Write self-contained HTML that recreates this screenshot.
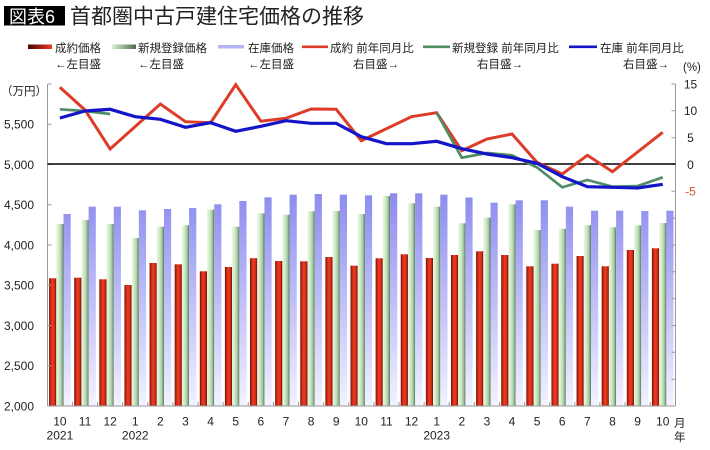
<!DOCTYPE html>
<html>
<head>
<meta charset="utf-8">
<style>
html,body{margin:0;padding:0;background:#fff;}
svg{display:block;}
text{font-family:"Liberation Sans","Noto Sans CJK JP",sans-serif;fill:#222;}
</style>
</head>
<body>
<svg width="710" height="450" viewBox="0 0 710 450" xmlns="http://www.w3.org/2000/svg">
<defs>
<linearGradient id="gR" x1="0" y1="0" x2="1" y2="0">
<stop offset="0" stop-color="#5c0a04"/>
<stop offset="0.15" stop-color="#b51f0e"/>
<stop offset="0.45" stop-color="#ec3d22"/>
<stop offset="0.75" stop-color="#d52d16"/>
<stop offset="1" stop-color="#6a0c05"/>
</linearGradient>
<linearGradient id="gG" x1="0" y1="0" x2="1" y2="0">
<stop offset="0" stop-color="#eaf7e4"/>
<stop offset="0.35" stop-color="#d0ecc8"/>
<stop offset="0.7" stop-color="#a8cca4"/>
<stop offset="0.88" stop-color="#7d9c80"/>
<stop offset="1" stop-color="#4e6650"/>
</linearGradient>
<linearGradient id="gB" gradientUnits="userSpaceOnUse" x1="0" y1="192" x2="0" y2="406">
<stop offset="0" stop-color="#8b8bef"/>
<stop offset="1" stop-color="#f2f2ff"/>
</linearGradient>
<linearGradient id="lR" x1="0" y1="0" x2="1" y2="0">
<stop offset="0" stop-color="#4a0502"/>
<stop offset="1" stop-color="#ee3a22"/>
</linearGradient>
<linearGradient id="lG" x1="0" y1="0" x2="1" y2="0">
<stop offset="0" stop-color="#d8f0d0"/>
<stop offset="1" stop-color="#4e6a50"/>
</linearGradient>
</defs>

<!-- Title -->
<rect x="4" y="6" width="61" height="19.5" fill="#000"/>
<text x="9" y="23" font-size="18" style="fill:#fff">図表6</text>
<text x="70" y="23.5" font-size="21">首都圏中古戸建住宅価格の推移</text>

<!-- Legend -->
<rect x="28" y="44.5" width="24" height="4.5" fill="url(#lR)"/>
<text x="55" y="52" font-size="11.5">成約価格</text>
<text x="55" y="68" font-size="11.5">←左目盛</text>

<rect x="112" y="44.5" width="24" height="4.5" fill="url(#lG)"/>
<text x="138" y="52" font-size="11.5">新規登録価格</text>
<text x="138" y="68" font-size="11.5">←左目盛</text>

<rect x="218" y="45" width="26" height="3.5" fill="#b4b4f4"/>
<text x="248" y="52" font-size="11.5">在庫価格</text>
<text x="248" y="68" font-size="11.5">←左目盛</text>

<line x1="302" y1="46.8" x2="328" y2="46.8" stroke="#dc3c28" stroke-width="2.6"/>
<text x="330" y="52" font-size="11.5">成約 前年同月比</text>
<text x="353" y="68" font-size="11.5">右目盛→</text>

<line x1="423" y1="46.8" x2="450" y2="46.8" stroke="#508c64" stroke-width="2.6"/>
<text x="452" y="52" font-size="11.5">新規登録 前年同月比</text>
<text x="477" y="68" font-size="11.5">右目盛→</text>

<line x1="569" y1="46.8" x2="597" y2="46.8" stroke="#1414c8" stroke-width="2.6"/>
<text x="600" y="52" font-size="11.5">在庫 前年同月比</text>
<text x="623" y="68" font-size="11.5">右目盛→</text>
<text x="683" y="71" font-size="11.5">(%)</text>

<text x="1" y="95" font-size="11.5">（万円）</text>

<!-- Red bars -->
<g fill="url(#gR)">
<rect x="49.10" y="278.3" width="7.2" height="127.7"/>
<rect x="74.22" y="277.7" width="7.2" height="128.3"/>
<rect x="99.34" y="279.3" width="7.2" height="126.7"/>
<rect x="124.45" y="285" width="7.2" height="121"/>
<rect x="149.57" y="263" width="7.2" height="143"/>
<rect x="174.69" y="264.3" width="7.2" height="141.7"/>
<rect x="199.81" y="271.3" width="7.2" height="134.7"/>
<rect x="224.93" y="267" width="7.2" height="139"/>
<rect x="250.04" y="258.2" width="7.2" height="147.8"/>
<rect x="275.16" y="261" width="7.2" height="145"/>
<rect x="300.28" y="261.3" width="7.2" height="144.7"/>
<rect x="325.40" y="257" width="7.2" height="149"/>
<rect x="350.52" y="265.7" width="7.2" height="140.3"/>
<rect x="375.63" y="258.3" width="7.2" height="147.7"/>
<rect x="400.75" y="254.3" width="7.2" height="151.7"/>
<rect x="425.87" y="258" width="7.2" height="148"/>
<rect x="450.99" y="255" width="7.2" height="151"/>
<rect x="476.11" y="251.3" width="7.2" height="154.7"/>
<rect x="501.22" y="255" width="7.2" height="151"/>
<rect x="526.34" y="266.3" width="7.2" height="139.7"/>
<rect x="551.46" y="263.7" width="7.2" height="142.3"/>
<rect x="576.58" y="256" width="7.2" height="150"/>
<rect x="601.70" y="266.3" width="7.2" height="139.7"/>
<rect x="626.81" y="250" width="7.2" height="156"/>
<rect x="651.93" y="248.3" width="7.2" height="157.7"/>
</g>

<!-- Green bars -->
<g fill="url(#gG)">
<rect x="56.30" y="224" width="7.2" height="182"/>
<rect x="81.42" y="220" width="7.2" height="186"/>
<rect x="106.54" y="224" width="7.2" height="182"/>
<rect x="131.65" y="238" width="7.2" height="168"/>
<rect x="156.77" y="226.7" width="7.2" height="179.3"/>
<rect x="181.89" y="225.3" width="7.2" height="180.7"/>
<rect x="207.01" y="209.7" width="7.2" height="196.3"/>
<rect x="232.13" y="226.7" width="7.2" height="179.3"/>
<rect x="257.24" y="213.3" width="7.2" height="192.7"/>
<rect x="282.36" y="214.7" width="7.2" height="191.3"/>
<rect x="307.48" y="211.3" width="7.2" height="194.7"/>
<rect x="332.60" y="211" width="7.2" height="195"/>
<rect x="357.72" y="214" width="7.2" height="192"/>
<rect x="382.83" y="196" width="7.2" height="210"/>
<rect x="407.95" y="203.3" width="7.2" height="202.7"/>
<rect x="433.07" y="206.7" width="7.2" height="199.3"/>
<rect x="458.19" y="223.3" width="7.2" height="182.7"/>
<rect x="483.31" y="217.7" width="7.2" height="188.3"/>
<rect x="508.42" y="204.3" width="7.2" height="201.7"/>
<rect x="533.54" y="230" width="7.2" height="176"/>
<rect x="558.66" y="228.7" width="7.2" height="177.3"/>
<rect x="583.78" y="225.3" width="7.2" height="180.7"/>
<rect x="608.90" y="227.3" width="7.2" height="178.7"/>
<rect x="634.01" y="225.3" width="7.2" height="180.7"/>
<rect x="659.13" y="223" width="7.2" height="183"/>
</g>

<!-- Blue bars -->
<g fill="url(#gB)">
<rect x="63.50" y="214" width="7.2" height="192"/>
<rect x="88.62" y="206.7" width="7.2" height="199.3"/>
<rect x="113.74" y="206.7" width="7.2" height="199.3"/>
<rect x="138.85" y="210.3" width="7.2" height="195.7"/>
<rect x="163.97" y="209" width="7.2" height="197"/>
<rect x="189.09" y="208" width="7.2" height="198"/>
<rect x="214.21" y="204.3" width="7.2" height="201.7"/>
<rect x="239.33" y="201" width="7.2" height="205"/>
<rect x="264.44" y="197.3" width="7.2" height="208.7"/>
<rect x="289.56" y="194.7" width="7.2" height="211.3"/>
<rect x="314.68" y="194" width="7.2" height="212"/>
<rect x="339.80" y="194.7" width="7.2" height="211.3"/>
<rect x="364.92" y="195.3" width="7.2" height="210.7"/>
<rect x="390.03" y="193.3" width="7.2" height="212.7"/>
<rect x="415.15" y="193.3" width="7.2" height="212.7"/>
<rect x="440.27" y="194.7" width="7.2" height="211.3"/>
<rect x="465.39" y="197.5" width="7.2" height="208.5"/>
<rect x="490.51" y="202.7" width="7.2" height="203.3"/>
<rect x="515.62" y="200.3" width="7.2" height="205.7"/>
<rect x="540.74" y="200.3" width="7.2" height="205.7"/>
<rect x="565.86" y="206.7" width="7.2" height="199.3"/>
<rect x="590.98" y="210.7" width="7.2" height="195.3"/>
<rect x="616.10" y="210.7" width="7.2" height="195.3"/>
<rect x="641.21" y="211" width="7.2" height="195"/>
<rect x="666.33" y="210.7" width="7.2" height="195.3"/>
</g>

<!-- Axes -->
<g stroke="#999" stroke-width="1" fill="none">
<line x1="47.5" y1="84" x2="47.5" y2="406"/>
<line x1="675.5" y1="84" x2="675.5" y2="406"/>
<line x1="47.5" y1="406" x2="675.5" y2="406"/>
<!-- left ticks -->
<path d="M47.5 84h4M47.5 124.25h4M47.5 164.5h4M47.5 204.75h4M47.5 245h4M47.5 285.25h4M47.5 325.5h4M47.5 365.75h4"/>
<!-- right ticks -->
<path d="M671.5 84h4M671.5 110.8h4M671.5 137.7h4M671.5 164.5h4M671.5 191.3h4M671.5 218.2h4M671.5 245h4M671.5 271.8h4M671.5 298.7h4M671.5 325.5h4M671.5 352.3h4M671.5 379.2h4"/>
<!-- bottom ticks -->
<path d="M72.4 402v4M97.5 402v4M122.6 402v4M147.8 402v4M172.9 402v4M198 402v4M223.1 402v4M248.2 402v4M273.4 402v4M298.5 402v4M323.6 402v4M348.7 402v4M373.9 402v4M399 402v4M424.1 402v4M449.2 402v4M474.3 402v4M499.5 402v4M524.6 402v4M549.7 402v4M574.8 402v4M599.9 402v4M625.1 402v4M650.2 402v4"/>
</g>

<!-- zero line -->
<line x1="47.5" y1="164" x2="675.5" y2="164" stroke="#000" stroke-width="1.6"/>

<!-- Lines -->
<g fill="none" stroke-width="3" stroke-linejoin="miter">
<polyline stroke="#dc3c28" points="59.9,87.3 85.02,110 110.14,149 135.25,126.5 160.37,104 185.49,121.7 210.61,122.7 235.73,84.7 260.84,121.2 285.96,118.3 311.08,109 336.2,109.3 361.32,140.7 386.43,128.7 411.55,116.7 436.67,112.7 461.79,150.7 486.91,139 512.02,134 537.14,162.5 562.26,174 587.38,155.3 612.5,171.7 637.61,152 662.73,132.3"/>
<polyline stroke="#508c64" stroke-width="2.7" points="59.9,109.3 85.02,111 110.14,114"/>
<polyline stroke="#508c64" stroke-width="2.7" points="436.67,112.7 461.79,157.7 486.91,153 512.02,155.3 537.14,167.5 562.26,187.3 587.38,180 612.5,186.7 637.61,186 662.73,177.3"/>
<polyline stroke="#1414c8" stroke-width="3.2" points="59.9,118 85.02,111 110.14,109.3 135.25,116.7 160.37,119.3 185.49,127.3 210.61,122.7 235.73,131.3 260.84,126.3 285.96,120.7 311.08,123.3 336.2,123.3 361.32,136.7 386.43,143.7 411.55,143.7 436.67,141.3 461.79,148.7 486.91,154 512.02,157.7 537.14,163.3 562.26,176.7 587.38,186.7 612.5,187.3 637.61,188 662.73,184.3"/>
</g>

<!-- Left axis labels -->
<g font-size="12" text-anchor="end">
<text x="34" y="128.7">5,500</text>
<text x="34" y="168.9">5,000</text>
<text x="34" y="209.2">4,500</text>
<text x="34" y="249.4">4,000</text>
<text x="34" y="289.7">3,500</text>
<text x="34" y="329.9">3,000</text>
<text x="34" y="370.2">2,500</text>
<text x="34" y="410.4">2,000</text>
</g>

<!-- Right axis labels -->
<g font-size="12" text-anchor="middle">
<text x="690.5" y="88.4">15</text>
<text x="690.5" y="115.2">10</text>
<text x="690.5" y="142.1">5</text>
<text x="690.5" y="168.9">0</text>
<text x="690.5" y="195.7" style="fill:#d9532c">-5</text>
</g>

<!-- X labels -->
<g font-size="12" text-anchor="middle">
<text x="59.9" y="425.5">10</text>
<text x="85.02" y="425.5">11</text>
<text x="110.14" y="425.5">12</text>
<text x="135.25" y="425.5">1</text>
<text x="160.37" y="425.5">2</text>
<text x="185.49" y="425.5">3</text>
<text x="210.61" y="425.5">4</text>
<text x="235.73" y="425.5">5</text>
<text x="260.84" y="425.5">6</text>
<text x="285.96" y="425.5">7</text>
<text x="311.08" y="425.5">8</text>
<text x="336.2" y="425.5">9</text>
<text x="361.32" y="425.5">10</text>
<text x="386.43" y="425.5">11</text>
<text x="411.55" y="425.5">12</text>
<text x="436.67" y="425.5">1</text>
<text x="461.79" y="425.5">2</text>
<text x="486.91" y="425.5">3</text>
<text x="512.02" y="425.5">4</text>
<text x="537.14" y="425.5">5</text>
<text x="562.26" y="425.5">6</text>
<text x="587.38" y="425.5">7</text>
<text x="612.5" y="425.5">8</text>
<text x="637.61" y="425.5">9</text>
<text x="662.73" y="425.5">10</text>
<text x="59.9" y="439.5">2021</text>
<text x="135.25" y="439.5">2022</text>
<text x="436.67" y="439.5">2023</text>
</g>
<text x="674" y="427" font-size="11.5">月</text>
<text x="674" y="441" font-size="11.5">年</text>
</svg>
</body>
</html>
